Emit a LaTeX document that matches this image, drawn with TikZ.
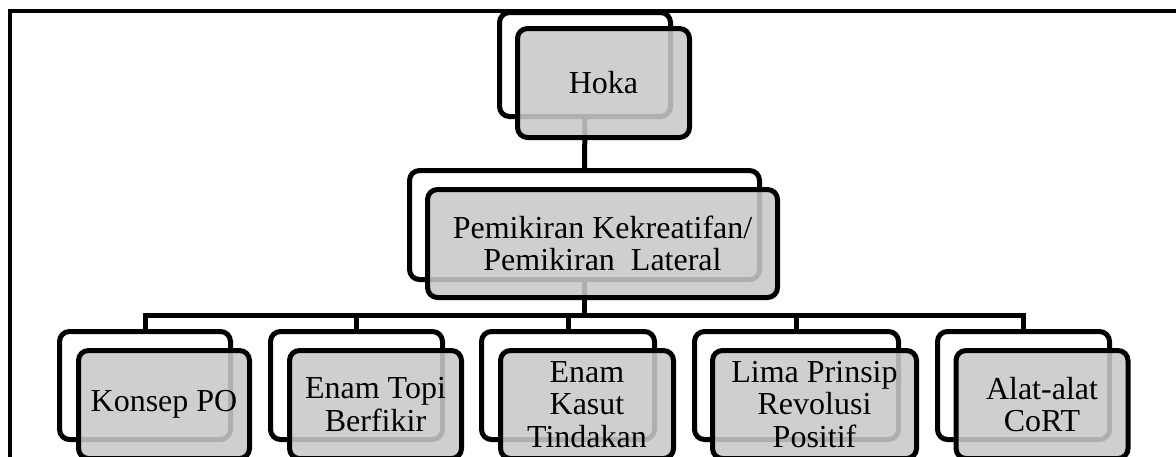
\documentclass[tikz,border=0pt]{standalone}
\usepackage{fontspec}
\setmainfont{Liberation Serif}
\definecolor{boxgray}{RGB}{201,201,201}
\begin{document}
\begin{tikzpicture}[x=1pt,y=-1pt,
  backbox/.style={draw=black, line width=5pt, fill=white, rounded corners=10pt, outer sep=0pt, inner sep=0pt},
  frontbox/.style={draw=black, line width=5pt, fill=boxgray, fill opacity=0.875, text opacity=1, draw opacity=1, rounded corners=10pt, outer sep=0pt, inner sep=0pt, align=center, font=\fontsize{32}{32.5}\selectfont},
  link/.style={draw=black, line width=5pt},
  framestyle/.style={draw=black, line width=4pt}]
\clip (0,0) rectangle (1176,456);
\fill[white] (0,0) rectangle (1176,456);
% frame
\coordinate (frameTL) at (9.5,11.3);
\coordinate (frameTR) at (1180,11.3);
\coordinate (frameBL) at (9.5,460);
\draw[framestyle] (frameBL) -- (frameTL) -- (frameTR);
% back boxes
\node[backbox, minimum width=171pt, minimum height=104pt] (hb) at (585,64.5) {};
\node[backbox, minimum width=350pt, minimum height=109pt] (mb) at (584.5,225) {};
\node[backbox, minimum width=171pt, minimum height=108pt] (c1b) at (145,385.5) {};
\node[backbox, minimum width=172pt, minimum height=108pt] (c2b) at (356.5,385.5) {};
\node[backbox, minimum width=173pt, minimum height=108pt] (c3b) at (568,385.5) {};
\node[backbox, minimum width=204pt, minimum height=108pt] (c4b) at (796.5,385.5) {};
\node[backbox, minimum width=172pt, minimum height=108pt] (c5b) at (1023.5,385.5) {};
% connectors
\coordinate (bus) at (0,315);
\draw[link] (hb.south) -- (mb.north);
\draw[link] (mb.south) -- (mb.south |- bus);
\draw[link] (c1b.north) |- (c5b.north |- bus) -- (c5b.north);
\draw[link] (c2b.north) -- (c2b.north |- bus);
\draw[link] (c3b.north) -- (c3b.north |- bus);
\draw[link] (c4b.north) -- (c4b.north |- bus);
% front boxes
\node[frontbox, minimum width=172pt, minimum height=109pt] (hf) at (603.5,83) {Hoka};
\node[frontbox, minimum width=350pt, minimum height=108pt] (mf) at (602.5,243.5) {Pemikiran Kekreatifan/\\Pemikiran\hspace{0.5em}Lateral};
\node[frontbox, minimum width=171pt, minimum height=108pt] (c1f) at (164,404.5) {Konsep PO};
\node[frontbox, minimum width=172pt, minimum height=108pt] (c2f) at (375.5,404.5) {Enam Topi\\Berfikir};
\node[frontbox, minimum width=173pt, minimum height=108pt] (c3f) at (587,404.5) {Enam\\Kasut\\Tindakan};
\node[frontbox, minimum width=204pt, minimum height=108pt] (c4f) at (814.5,404.5) {Lima Prinsip\\Revolusi\\Positif};
\node[frontbox, minimum width=172pt, minimum height=108pt] (c5f) at (1042,404.5) {Alat-alat\\CoRT};
\end{tikzpicture}
\end{document}
